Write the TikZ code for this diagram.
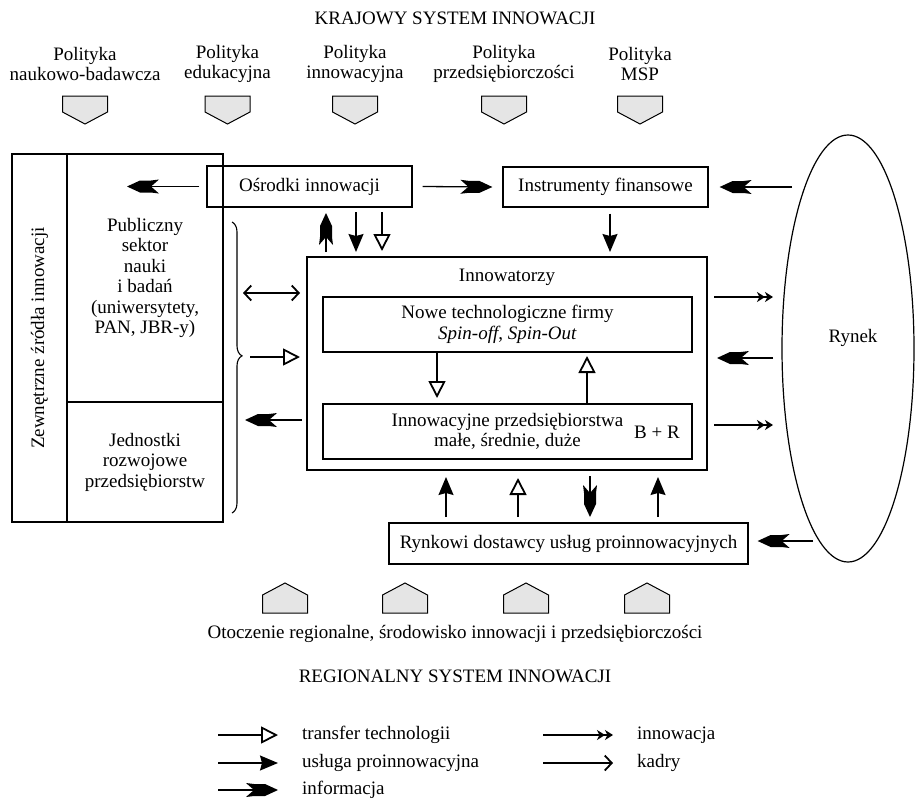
\documentclass[tikz,border=0pt]{standalone}
\usepackage{fontspec}
\setmainfont{Liberation Serif}
\usetikzlibrary{arrows.meta,decorations.pathreplacing,shapes.geometric,calc}

\pgfdeclarearrow{
  name = Info,
  setup code = {
    \pgfarrowssettipend{0pt}
    \pgfarrowssetbackend{-32pt}
    \pgfarrowssetlineend{-23pt}
  },
  drawing code = {
    \pgfpathmoveto{\pgfqpoint{0pt}{0pt}}
    \pgfpathlineto{\pgfqpoint{-13pt}{6pt}}
    \pgfpathlineto{\pgfqpoint{-24pt}{6pt}}
    \pgfpathlineto{\pgfqpoint{-32pt}{7pt}}
    \pgfpathlineto{\pgfqpoint{-24pt}{0pt}}
    \pgfpathlineto{\pgfqpoint{-32pt}{-7pt}}
    \pgfpathlineto{\pgfqpoint{-24pt}{-6pt}}
    \pgfpathlineto{\pgfqpoint{-13pt}{-6pt}}
    \pgfpathclose
    \pgfusepathqfill
  }
}

\begin{document}
\begin{tikzpicture}[x=1pt,y=-1pt,
  every node/.style={font=\fontsize{19}{20.5}\selectfont, inner sep=0pt},
  box/.style={draw, line width=1.3pt, align=center},
  conn/.style={line width=1.3pt},
  info/.style={conn,-{Info}},
  usluga/.style={conn,-{Stealth[length=18pt,width=15pt,inset=2pt]}},
  transfer/.style={conn,-{Triangle[length=17pt,width=17pt,fill=white,line width=1.8pt]}},
  kadry/.style={conn,{Straight Barb[length=7pt,width=15pt,line width=1.8pt]}-{Straight Barb[length=7pt,width=15pt,line width=1.8pt]}},
  innov/.style={conn,-{Stealth[length=8pt,width=10pt,inset=2.5pt]Stealth[length=8pt,width=10pt,inset=2.5pt]}},
  pent/.style={draw, line width=1pt, fill=gray!20},
]
\useasboundingbox (0,0) rectangle (915,803);

% titles
\node (krajowy) at (455,18) {KRAJOWY SYSTEM INNOWACJI};
\node[align=center] (p1) at (85,64) {Polityka\\naukowo-badawcza};
\node[align=center] (p2) at (227.5,64) {Polityka\\edukacyjna};
\node[align=center] (p3) at (355,64) {Polityka\\innowacyjna};
\node[align=center] (p4) at (504,64) {Polityka\\przedsiębiorczości};
\node[align=center] (p5) at (640,64) {Polityka\\MSP};

\foreach \x in {85,227.5,355,504,640}
  \draw[pent] (\x-22.5,96) -- (\x+22.5,96) -- (\x+22.5,112) -- (\x,124) -- (\x-22.5,112) -- cycle;

% left block
\node[box, minimum width=55pt, minimum height=368pt] (zew) at (39.5,338) {};
\node[rotate=90] (zewt) at (39.5,338) {Zewnętrzne źródła innowacji};
\node[box, minimum width=156pt, minimum height=248pt] (pub) at (145,278)
  {Publiczny\\sektor\\nauki\\i badań\\(uniwersytety,\\PAN, JBR-y)};
\node[box, minimum width=156pt, minimum height=120pt] (jed) at (145,462)
  {Jednostki\\rozwojowe\\przedsiębiorstw};

% top boxes
\node[box, minimum width=205pt, minimum height=41pt] (osr) at (309.5,186.5) {Ośrodki innowacji};
\node[box, minimum width=205pt, minimum height=40pt] (ins) at (605.5,187) {Instrumenty finansowe};

% innovators
\node[box, minimum width=400pt, minimum height=213pt] (inn) at (507,363.5) {};
\node (innt) at (507,277) {Innowatorzy};
\node[box, minimum width=369pt, minimum height=55pt] (nowe) at (507.5,324.5)
  {Nowe technologiczne firmy\\\textit{Spin-off}, \textit{Spin-Out}};
\node[box, minimum width=369pt, minimum height=55pt] (ip) at (507.5,431.5)
  {Innowacyjne przedsiębiorstwa\\małe, średnie, duże};
\node (br) at (657,432) {B + R};

\node[box, minimum width=359pt, minimum height=41pt] (ryn) at (568.5,543.5)
  {Rynkowi dostawcy usług proinnowacyjnych};

% market
\node[draw, ellipse, line width=1.2pt, minimum width=132pt, minimum height=427pt] (rynek) at (848,348.5) {};
\node (rynekt) at (853,338) {Rynek};

% brace
\draw[line width=1.1pt, decorate, decoration={brace, amplitude=10pt, aspect=0.46}] (232,222) -- (232,513);

% connectors
\draw[info] ($(osr.west)+(-7,0)$) -- (127,186.5);
\draw[info] ($(osr.east)+(10,0)$) -- ($(ins.west)+(-10,0)$);
\draw[info] (792,187) -- ($(ins.east)+(11,0)$);
\draw[info] (326,252) -- (326,213);
\draw[usluga] (356,212) -- (356,252);
\draw[transfer] (382,212) -- (382,251);
\draw[usluga] ($(ins.south)+(4.5,6)$) -- (610,252);

\draw[kadry] (243,293) -- (300,293);
\draw[transfer] (250,357) -- (300,357);
\draw[info] (302,420) -- (245,420);

\draw[transfer] (437,352) -- (437,398);
\draw[transfer] (587,404) -- (587,356);

\draw[innov] (714,297) -- (773,297);
\draw[info] (773,358) -- (717,358);
\draw[innov] (714,425) -- (773,425);
\draw[info] (813,541) -- ($(ryn.east)+(9,-2.5)$);

\draw[usluga] (446,517) -- (446,477);
\draw[transfer] (518,517) -- (518,478);
\draw[info] (590,476) -- (590,517);
\draw[usluga] (658,517) -- (658,477);

% bottom pentagons
\foreach \x in {285,405,526,647}
  \draw[pent] (\x-22.5,613) -- (\x+22.5,613) -- (\x+22.5,595) -- (\x,583) -- (\x-22.5,595) -- cycle;

\node (otocz) at (455,634) {Otoczenie regionalne, środowisko innowacji i przedsiębiorczości};
\node (reg) at (455,676) {REGIONALNY SYSTEM INNOWACJI};

% legend
\coordinate (l1) at (218,735);
\coordinate (l2) at (218,763);
\coordinate (l3) at (218,790);
\coordinate (r1) at (543,735);
\coordinate (r2) at (543,763);
\draw[transfer] (l1) -- ++(60,0);
\draw[usluga] (l2) -- ++(60,0);
\draw[info] (l3) -- ++(60,0);
\draw[innov] (r1) -- ++(70,0);
\draw[conn,-{Straight Barb[length=7pt,width=15pt,line width=1.8pt]}] (r2) -- ++(70,0);
\node[anchor=west] (t1) at (302,735) {transfer technologii};
\node[anchor=west] (t2) at (302,763) {usługa proinnowacyjna};
\node[anchor=west] (t3) at (302,790) {informacja};
\node[anchor=west] (t4) at (637,735) {innowacja};
\node[anchor=west] (t5) at (637,763) {kadry};
\end{tikzpicture}
\end{document}
